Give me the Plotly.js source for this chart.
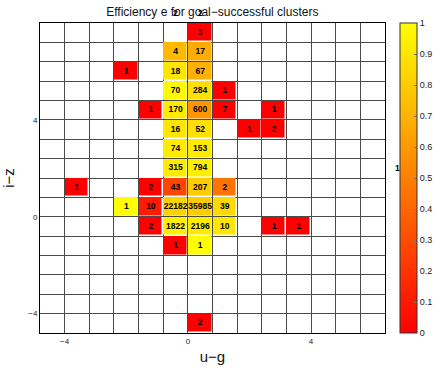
<!DOCTYPE html>
<html>
<head>
<meta charset="utf-8">
<script src="https://cdn.plot.ly/plotly-3.0.1.min.js"></script>
<style>
  html, body { margin: 0; padding: 0; background: #fff; }
  #chart { width: 436px; height: 367px; }
</style>
</head>
<body>
<div id="chart"></div>
<script>
// bin centres (bin width 0.8)
const xCenters = [-4.4, -3.6, -2.8, -2.0, -1.2, -0.4, 0.4, 1.2, 2.0, 2.8, 3.6, 4.4, 5.2, 6.0];
const yCenters = [-4.4, -3.6, -2.8, -2.0, -1.2, -0.4, 0.4, 1.2, 2.0, 2.8, 3.6, 4.4, 5.2, 6.0, 6.8, 7.6];
const xRange = [-4.8, 6.4];
const yRange = [-4.8, 8.0];
const tickVals = [-4, 0, 4];

// filled cells: u-g, i-z, number of clusters, efficiency
const cellX = [0.4, -0.4, 0.4, -2.0, -0.4, 0.4, -0.4, 0.4, 1.2, -1.2, -0.4, 0.4, 1.2, 2.8,
  -0.4, 0.4, 2.0, 2.8, -0.4, 0.4, -0.4, 0.4, -3.6, -1.2, -0.4, 0.4, 1.2,
  -2.0, -1.2, -0.4, 0.4, 1.2, -1.2, -0.4, 0.4, 1.2, 2.8, 3.6, -0.4, 0.4, 0.4];
const cellY = [7.6, 6.8, 6.8, 6.0, 6.0, 6.0, 5.2, 5.2, 5.2, 4.4, 4.4, 4.4, 4.4, 4.4,
  3.6, 3.6, 3.6, 3.6, 2.8, 2.8, 2.0, 2.0, 1.2, 1.2, 1.2, 1.2, 1.2,
  0.4, 0.4, 0.4, 0.4, 0.4, -0.4, -0.4, -0.4, -0.4, -0.4, -0.4, -1.2, -1.2, -4.4];
const cellN = [3, 4, 17, 1, 18, 67, 70, 284, 1, 1, 170, 600, 7, 1,
  16, 52, 1, 2, 74, 153, 315, 794, 1, 2, 43, 207, 2,
  1, 10, 22182, 35985, 39, 2, 1822, 2196, 10, 1, 1, 1, 1, 2];
const cellEff = [0, 0.73, 0.67, 0, 0.9, 0.69, 0.98, 0.88, 0, 0, 0.92, 0.59, 0, 0,
  0.9, 0.88, 0, 0, 0.92, 0.92, 0.92, 0.94, 0, 0, 0.27, 0.8, 0.45,
  1, 0.1, 0.82, 0.8, 0.85, 0, 0.94, 0.93, 0.9, 0, 0, 0, 1, 0];

// counts that fall outside the drawn range
const outX = [-0.4, 0.4, 6.8];
const outY = [8.4, 8.4, 2.0];
const outN = [2, 2, 1];

const near = (a, b) => Math.abs(a - b) < 1e-6;
const z = yCenters.map((yc) => xCenters.map((xc) => {
  const i = cellX.findIndex((x, k) => near(x, xc) && near(cellY[k], yc));
  return i < 0 ? null : cellEff[i];
}));

const autumn = [[0, "rgb(255,0,0)"], [1, "rgb(255,255,0)"]];
const gridCol = "#4a4a4a";
const font = "Liberation Sans, Arial, sans-serif";
const cellFont = { family: font, size: 8.5, color: "#000", weight: "bold" };

const traces = [
  {
    type: "heatmap",
    x: xCenters,
    y: yCenters,
    z: z,
    zmin: 0,
    zmax: 1,
    colorscale: autumn,
    xgap: 1.5,
    ygap: 1.5,
    hoverongaps: false,
    colorbar: {
      x: 1.043,
      xanchor: "left",
      xpad: 0,
      ypad: 0,
      y: 0.5,
      len: 1,
      thickness: 17,
      outlinewidth: 1,
      outlinecolor: "#333",
      tick0: 0,
      dtick: 0.1,
      ticks: "inside",
      ticklen: 3,
      tickcolor: "#777",
      tickfont: { family: font, size: 9, color: "#222" },
    },
  },
  {
    type: "scatter",
    mode: "text",
    x: cellX,
    y: cellY,
    text: cellN.map(String),
    textfont: cellFont,
    hoverinfo: "skip",
    showlegend: false,
  },
];

// out-of-range counts placed in paper units via the axis ranges
const frac = (v, r) => (v - r[0]) / (r[1] - r[0]);
const annotations = outN.map((n, i) => ({
  xref: "paper",
  yref: "paper",
  x: frac(outX[i], xRange),
  y: frac(outY[i], yRange),
  xanchor: "center",
  yanchor: "middle",
  text: String(n),
  showarrow: false,
  font: cellFont,
}));

const axisBase = {
  showline: true,
  mirror: true,
  linecolor: "#000",
  linewidth: 1,
  zeroline: false,
  showgrid: true,
  gridcolor: gridCol,
  gridwidth: 1,
  tickmode: "array",
  tickvals: tickVals,
  ticktext: tickVals.map((v) => (v < 0 ? "\u2212" + Math.abs(v) : String(v))),
  ticks: "",
  tickfont: { family: font, size: 8, color: "#222" },
  minor: { tick0: 0, dtick: 0.8, showgrid: true, gridcolor: gridCol, gridwidth: 1 },
};

const layout = {
  width: 436,
  height: 367,
  margin: { l: 40, r: 51, t: 23, b: 34, autoexpand: false },
  paper_bgcolor: "#fff",
  plot_bgcolor: "#fff",
  showlegend: false,
  annotations: annotations,
  title: {
    text: "Efficiency e for goal\u2212successful clusters",
    font: { family: font, size: 12, color: "#111" },
    x: 0.487,
    xanchor: "center",
    y: 0.967,
    yanchor: "middle",
  },
  xaxis: {
    ...axisBase,
    range: xRange,
    title: { text: "u\u2212g", font: { family: font, size: 15, color: "#111" }, standoff: 6 },
  },
  yaxis: {
    ...axisBase,
    range: yRange,
    title: { text: "i\u2212z", font: { family: font, size: 15, color: "#111" }, standoff: 10 },
  },
};

Plotly.newPlot("chart", traces, layout, { displayModeBar: false, staticPlot: true });
</script>
</body>
</html>
